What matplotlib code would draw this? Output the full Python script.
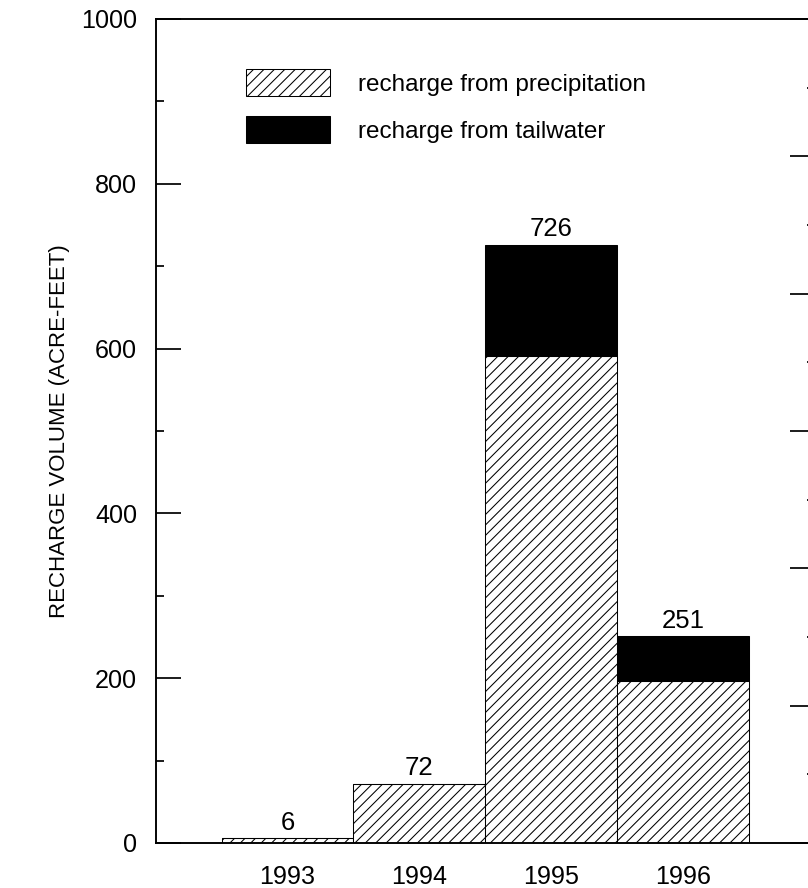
import numpy as np
import matplotlib
matplotlib.use("Agg")
import matplotlib.pyplot as plt
from matplotlib.ticker import MultipleLocator

plt.rcParams["font.family"] = ["Liberation Sans", "DejaVu Sans"]
plt.rcParams["hatch.linewidth"] = 0.6

# data
years = [1993, 1994, 1995, 1996]
precip = [6, 72, 591, 197]
tailwater = [0, 0, 135, 54]
totals = [6, 72, 726, 251]
labels = ["recharge from precipitation", "recharge from tailwater"]

DPI = 125
fig = plt.figure(figsize=(808 / DPI, 888 / DPI), dpi=DPI)
ax = fig.add_axes([155.7 / 808, 45 / 888, 659.3 / 808, 824 / 888])

b1 = ax.bar(years, precip, width=1.0, color="white", edgecolor="black",
            hatch="////", linewidth=0.6, label=labels[0])
b2 = ax.bar(years, tailwater, width=1.0, bottom=precip, color="black",
            edgecolor="black", linewidth=0.6, label=labels[1])

for x, t in zip(years, totals):
    ax.annotate(str(t), (x, t), xytext=(0, 2), textcoords="offset points",
                ha="center", va="bottom", fontsize=14.8)

ax.set_xlim(1992, 1997)
ax.set_ylim(0, 1000)
ax.set_xticks(years)
ax.set_xticklabels([str(y) for y in years])
ax.yaxis.set_major_locator(MultipleLocator(200))
ax.yaxis.set_minor_locator(MultipleLocator(100))
ax.tick_params(axis="x", length=0, pad=12.5, labelsize=14.5)
ax.tick_params(axis="y", which="major", direction="in", length=14.4, width=1.0,
               pad=10.8, labelsize=14.5)
ax.tick_params(axis="y", which="minor", direction="in", length=4.6, width=1.0)
ax.tick_params(right=False, top=False)

for s in ax.spines.values():
    s.set_linewidth(1.1)

ax.set_ylabel("RECHARGE VOLUME (ACRE-FEET)", fontsize=12.8)
ax.yaxis.set_label_coords(-0.130, 0.5)

# secondary scale on the right (labels fall outside the image)
ax2 = ax.twinx()
ax2.set_ylim(0, 6)
ax2.yaxis.set_major_locator(MultipleLocator(1))
ax2.yaxis.set_minor_locator(MultipleLocator(0.5))
ax2.tick_params(axis="y", which="major", direction="in", length=14.4, width=1.0,
                labelright=False)
ax2.tick_params(axis="y", which="minor", direction="in", length=4.6, width=1.0)
for s in ax2.spines.values():
    s.set_visible(False)

ax.legend(handles=[b1, b2], labels=labels, loc="upper left",
          bbox_to_anchor=(0.137, 0.939), frameon=False, fontsize=14,
          handlelength=3.46, handleheight=1.34, labelspacing=0.8,
          handletextpad=1.15, borderpad=0, borderaxespad=0)

fig.savefig("out.png", dpi=DPI)
